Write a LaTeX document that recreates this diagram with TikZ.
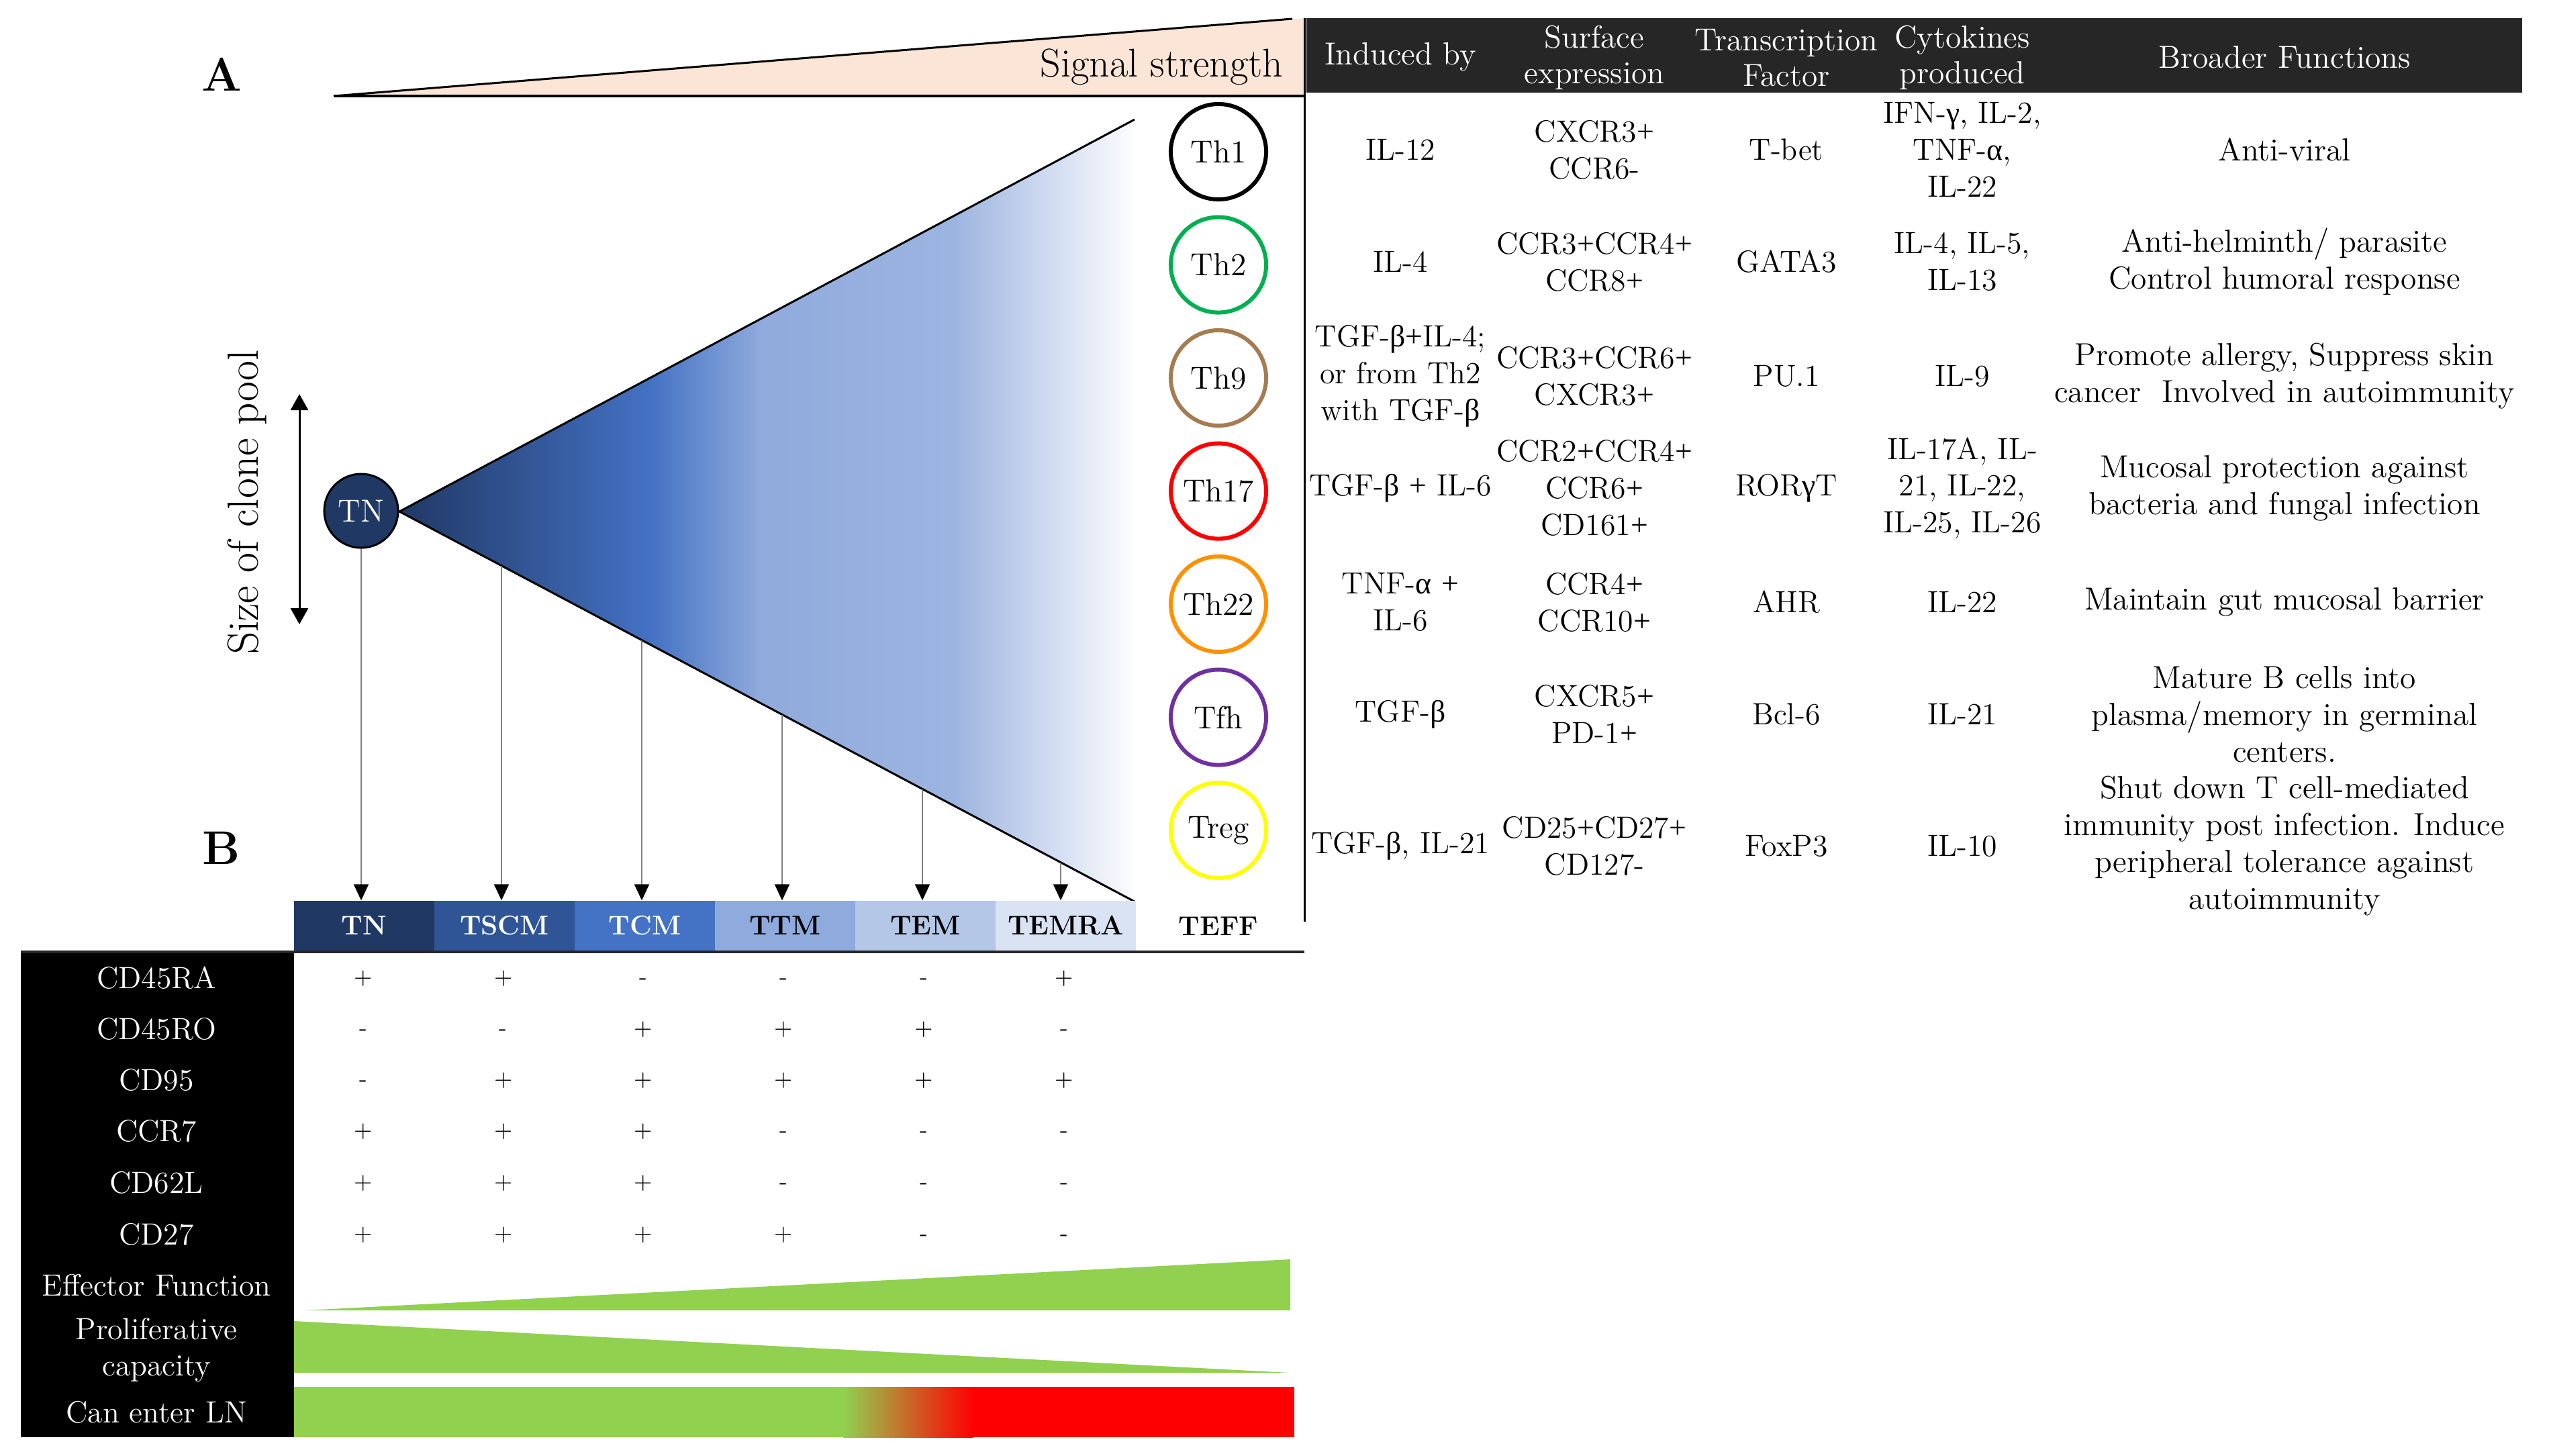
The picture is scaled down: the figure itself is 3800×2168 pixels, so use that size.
\documentclass[tikz,border=0pt]{standalone}
\usepackage{fontspec}
\newfontfamily\grk{Liberation Serif}
\usetikzlibrary{arrows.meta,calc}
\definecolor{navy}{HTML}{203864}
\definecolor{cb2}{HTML}{2F5597}
\definecolor{cb3}{HTML}{4472C4}
\definecolor{cb4}{HTML}{8FAADC}
\definecolor{cb5}{HTML}{B4C7E7}
\definecolor{cb6}{HTML}{DAE3F3}
\definecolor{peach}{HTML}{FBE5D6}
\definecolor{hdr}{HTML}{262626}
\definecolor{lgreen}{HTML}{92D050}
\definecolor{thgreen}{HTML}{00B050}
\definecolor{thbrown}{HTML}{A57C52}
\definecolor{thorange}{HTML}{FF9100}
\definecolor{thpurple}{HTML}{7030A0}
\definecolor{thyellow}{HTML}{FFFF00}
\newcommand\myg{{\grk γ}}
\newcommand\mya{{\grk α}}
\newcommand\myb{{\grk β}}
\newcommand\mypl{{\grk +}}
\begin{document}
\begin{tikzpicture}[x=0.01cm,y=-0.01cm,
  tb/.style={font=\fontsize{13}{15.6}\selectfont, align=center, inner sep=0pt},
  tbf/.style={font=\fontsize{13.5}{15.6}\selectfont, align=center, inner sep=0pt},
  hd/.style={font=\fontsize{13.5}{15.2}\selectfont, align=center, inner sep=0pt, text=white},
  th/.style={circle, draw=#1, line width=0.06cm, minimum size=1.42cm, inner sep=0pt, font=\fontsize{13.5}{15.6}\selectfont},
  cell/.style={minimum width=2.09cm, minimum height=0.74cm, inner sep=0pt, font=\bfseries\fontsize{11.5}{13}\selectfont},
  rl/.style={text=white, font=\fontsize{13}{15.6}\selectfont, align=center, inner sep=0pt},
  sg/.style={font=\fontsize{10}{12}\selectfont, inner sep=0pt, anchor=base},
  arr/.style={draw=black!50, line width=0.02cm, -{Triangle[length=0.24cm,width=0.22cm,color=black]}},
  dbl/.style={line width=0.03cm, {Triangle[length=0.24cm,width=0.26cm]}-{Triangle[length=0.24cm,width=0.26cm]}},
  panel/.style={font=\bfseries\fontsize{20}{24}\selectfont, inner sep=0pt}
]
\useasboundingbox (0,0) rectangle (3800,2168);

% ---- signal strength wedge
\fill[peach] (497,143) -- (1943,27) -- (1943,143) -- cycle;
\draw[line width=0.03cm] (497,143) -- (1925,28);
\draw[line width=0.04cm] (497,143) -- (1943,143);
\node[font=\fontsize{17}{20}\selectfont, anchor=base east, inner sep=0pt] (sig) at (1912,114) {Signal strength};
\node[panel] (lA) at (330,111) {A};
\node[panel] (lB) at (330,1263) {B};

% ---- table header
\fill[hdr] (1946,27) rectangle (3757,138);
\node[hd] (h1) at (2086,85) {Induced by};
\node[hd] (h2) at (2375,86) {Surface\\expression};
\node[hd] (h3) at (2661,86) {Transcription\\Factor};
\node[hd] (h4) at (2923,86) {Cytokines\\produced};
\node[hd] (h5) at (3403,85) {Broader Functions};
\draw[line width=0.03cm] (1943,27) -- (1943,1373);

% ---- table body
\node[tb] (r1a) at (2086,223) {IL-12};
\node[tb] (r1b) at (2375,223) {CXCR3\mypl\\CCR6-};
\node[tb] (r1c) at (2661,223) {T-bet};
\node[tb] (r1d) at (2923,223) {IFN-\myg, IL-2,\\TNF-\mya,\\IL-22};
\node[tbf] (r1e) at (3403,223) {Anti-viral};

\node[tb] (r2a) at (2086,390) {IL-4};
\node[tb] (r2b) at (2375,390) {CCR3\mypl CCR4\mypl\\CCR8\mypl};
\node[tb] (r2c) at (2661,390) {GATA3};
\node[tb] (r2d) at (2923,390) {IL-4, IL-5,\\IL-13};
\node[tbf] (r2e) at (3403,390) {Anti-helminth/ parasite\\Control humoral response};

\node[tb] (r3a) at (2086,560) {TGF-\myb\mypl IL-4;\\or from Th2\\with TGF-\myb};
\node[tb] (r3b) at (2375,560) {CCR3\mypl CCR6\mypl\\CXCR3\mypl};
\node[tb] (r3c) at (2661,560) {PU.1};
\node[tb] (r3d) at (2923,560) {IL-9};
\node[tbf] (r3e) at (3403,560) {Promote allergy, Suppress skin\\cancer\ \ Involved in autoimmunity};

\node[tb] (r4a) at (2086,727) {TGF-\myb{} \mypl{} IL-6};
\node[tb] (r4b) at (2375,727) {CCR2\mypl CCR4\mypl\\CCR6\mypl\\CD161\mypl};
\node[tb] (r4c) at (2661,727) {ROR\myg T};
\node[tb] (r4d) at (2923,727) {IL-17A, IL-\\21, IL-22,\\IL-25, IL-26};
\node[tbf] (r4e) at (3403,727) {Mucosal protection against\\bacteria and fungal infection};

\node[tb] (r5a) at (2086,897) {TNF-\mya{} \mypl\\IL-6};
\node[tb] (r5b) at (2375,897) {CCR4\mypl\\CCR10\mypl};
\node[tb] (r5c) at (2661,897) {AHR};
\node[tb] (r5d) at (2923,897) {IL-22};
\node[tbf] (r5e) at (3403,897) {Maintain gut mucosal barrier};

\node[tb] (r6a) at (2086,1064) {TGF-\myb};
\node[tb] (r6b) at (2375,1064) {CXCR5\mypl\\PD-1\mypl};
\node[tb] (r6c) at (2661,1064) {Bcl-6};
\node[tb] (r6d) at (2923,1064) {IL-21};
\node[tbf] (r6e) at (3403,1064) {Mature B cells into\\plasma/memory in germinal\\centers.};

\node[tb] (r7a) at (2086,1260) {TGF-\myb, IL-21};
\node[tb] (r7b) at (2375,1260) {CD25\mypl CD27\mypl\\CD127-};
\node[tb] (r7c) at (2661,1260) {FoxP3};
\node[tb] (r7d) at (2923,1260) {IL-10};
\node[tbf] (r7e) at (3403,1260) {Shut down T cell-mediated\\immunity post infection. Induce\\peripheral tolerance against\\autoimmunity};

% ---- effector circles
\node[th=black] (th1) at (1815,226) {Th1};
\node[th=thgreen] (th2) at (1815,394.5) {Th2};
\node[th=thbrown] (th9) at (1815,563) {Th9};
\node[th=red] (th17) at (1815,731.5) {Th17};
\node[th=thorange] (th22) at (1815,900) {Th22};
\node[th=thpurple] (tfh) at (1815,1068.5) {Tfh};
\node[th=thyellow] (treg) at (1815,1237) {Treg};

% ---- cone
\coordinate (apex) at (595,762);
\coordinate (ctop) at (1690,178);
\coordinate (cbot) at (1690,1343);
\begin{scope}
  \clip (apex) -- (ctop) -- (cbot) -- cycle;
  \shade[left color=navy, right color=cb3] (590,170) rectangle (973,1350);
  \shade[left color=cb3, right color=cb4] (970,170) rectangle (1133,1350);
  \shade[left color=cb4, right color=cb4!88!white] (1130,170) rectangle (1423,1350);
  \shade[left color=cb4!88!white, right color=white] (1420,170) rectangle (1695,1350);
\end{scope}
\draw[line width=0.03cm] (ctop) -- (apex) -- (cbot);

\node[rotate=90, font=\fontsize{18.5}{22}\selectfont, inner sep=0pt] (scp) at (368,748) {Size of clone pool};
\coordinate (da1) at (446,587);
\coordinate (da2) at (446,930);
\draw[dbl] (da1) -- (da2);

\node[circle, fill=navy, draw=black, line width=0.03cm, minimum size=1.1cm, inner sep=0pt, text=white, font=\fontsize{13.5}{15.6}\selectfont] (TN) at (538,761) {TN};

% ---- subset header cells
\node[cell, fill=navy, text=white] (hTN) at (542.5,1379) {TN};
\node[cell, fill=cb2, text=white] (hTSCM) at (751.5,1379) {TSCM};
\node[cell, fill=cb3, text=white] (hTCM) at (960.5,1379) {TCM};
\node[cell, fill=cb4] (hTTM) at (1169.5,1379) {TTM};
\node[cell, fill=cb5] (hTEM) at (1378.5,1379) {TEM};
\node[cell, fill=cb6] (hTEMRA) at (1587.5,1379) {TEMRA};
\node[cell] (hTEFF) at (1815,1380) {TEFF};

% ---- arrows
\coordinate (e2) at (747,843);
\coordinate (e3) at (956,954);
\coordinate (e4) at (1165,1065);
\coordinate (e5) at (1374,1176);
\coordinate (e6) at (1580,1285);
\draw[arr] (TN.south) -- (TN.south |- hTN.north);
\draw[arr] (e2) -- (e2 |- hTSCM.north);
\draw[arr] (e3) -- (e3 |- hTCM.north);
\draw[arr] (e4) -- (e4 |- hTTM.north);
\draw[arr] (e5) -- (e5 |- hTEM.north);
\draw[arr] (e6) -- (e6 |- hTEMRA.north);

% ---- part B table
\fill[black] (31,1418) rectangle (438,2141);
\draw[line width=0.04cm, black!85] (31,1418) -- (1943,1418);

\node[rl] (lCD45RA) at (233,1457) {CD45RA};
\node[rl] (lCD45RO) at (233,1533) {CD45RO};
\node[rl] (lCD95) at (233,1609) {CD95};
\node[rl] (lCCR7) at (233,1685) {CCR7};
\node[rl] (lCD62L) at (233,1762) {CD62L};
\node[rl] (lCD27) at (233,1839) {CD27};
\node[rl] (lEff) at (233,1915) {Effector Function};
\node[rl] (lProl) at (233,2011) {Proliferative\\capacity};
\node[rl] (lLN) at (233,2104) {Can enter LN};

\foreach \yy/\vals [count=\r] in {1457/{+,+,-,-,-,+}, 1533/{-,-,+,+,+,-}, 1609/{-,+,+,+,+,+}, 1685/{+,+,+,-,-,-}, 1762/{+,+,+,-,-,-}, 1839/{+,+,+,+,-,-}}{
  \foreach \v [count=\i from 0] in \vals {
    \node[sg] (s-\r-\i) at (541+208.8*\i,\yy+9) {\v};
  }
}

\fill[lgreen] (454,1952) -- (1922,1876) -- (1922,1952) -- cycle;
\fill[lgreen] (438,1968) -- (438,2045) -- (1922,2045) -- cycle;
\fill[lgreen] (438,2066) rectangle (1258,2141);
\shade[left color=lgreen, right color=red] (1256,2066) rectangle (1450,2141);
\fill[red] (1448,2066) rectangle (1928,2141);
\end{tikzpicture}
\end{document}
